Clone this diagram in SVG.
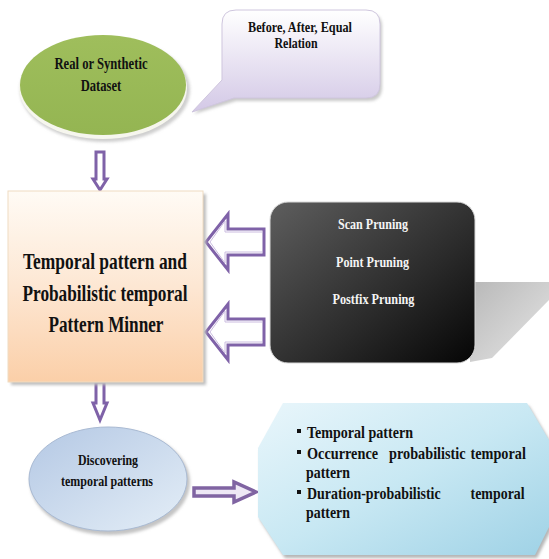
<svg xmlns="http://www.w3.org/2000/svg" width="549" height="559" viewBox="0 0 549 559">
<style>
text{font-family:'Liberation Serif','Times New Roman',serif;font-weight:bold;}
.t{fill:#111;}
.w{fill:#f4f4f4;}
.arr{fill:#ffffff;stroke:#7f62a8;stroke-width:3;stroke-linejoin:miter;}
.arrin{fill:none;stroke:#cbbce0;stroke-width:1;}
</style>
<defs>
<linearGradient id="gGreen" x1="0" y1="0" x2="0" y2="1"><stop offset="0" stop-color="#9fbe5c"/><stop offset="1" stop-color="#94b552"/></linearGradient>
<linearGradient id="gCall" x1="0" y1="0" x2="0" y2="1"><stop offset="0" stop-color="#ffffff"/><stop offset="1" stop-color="#d3c8e6"/></linearGradient>
<linearGradient id="gOr" x1="0" y1="0" x2="0" y2="1"><stop offset="0" stop-color="#fffbf5"/><stop offset="0.5" stop-color="#fde7d3"/><stop offset="1" stop-color="#fbcfa8"/></linearGradient>
<linearGradient id="gDark" x1="0" y1="0" x2="1" y2="1"><stop offset="0" stop-color="#5e5e5e"/><stop offset="0.6" stop-color="#2a2a2a"/><stop offset="1" stop-color="#050505"/></linearGradient>
<linearGradient id="gSh" x1="0" y1="0" x2="1" y2="1"><stop offset="0" stop-color="#b8b8b8"/><stop offset="1" stop-color="#e6e6e6"/></linearGradient>
<linearGradient id="gBlue" x1="0" y1="0" x2="1" y2="1"><stop offset="0" stop-color="#b4c8e4"/><stop offset="1" stop-color="#e4eef7"/></linearGradient>
<linearGradient id="gOct" x1="0" y1="0" x2="1" y2="1"><stop offset="0" stop-color="#e9f6fb"/><stop offset="0.5" stop-color="#c8e8f3"/><stop offset="1" stop-color="#9fd2e6"/></linearGradient>
<filter id="blur" x="-10%" y="-10%" width="120%" height="130%"><feGaussianBlur stdDeviation="1.5"/></filter>
</defs>

<g id="connectors">
  <path class="arr" d="M96,152 H104 V179 H107 L100,190 L93,179 H96 Z"/>
  <path class="arr" d="M96,382 H104 V403 H107 L100,420 L93,403 H96 Z"/>
  <path class="arr" d="M264,229 H228 V214 L206,242 L228,270 V255 H264 Z"/>
  <path class="arrin" d="M262,232 H225 V221 L210,242 L225,263 V252 H262"/>
  <path class="arr" d="M264,319 H228 V304 L206,332 L228,360 V345 H264 Z"/>
  <path class="arrin" d="M262,322 H225 V311 L210,332 L225,353 V342 H262"/>
  <path d="M194,488 H234 V482 L256,492 L234,502 V496 H194 Z" fill="#eee8f5" stroke="#8064a2" stroke-width="3.5" stroke-linejoin="miter"/>
</g>

<g id="dataset">
  <ellipse cx="105" cy="90" rx="85" ry="52" fill="#cfcfcf" filter="url(#blur)"/>
  <ellipse cx="103" cy="88" rx="84" ry="51" fill="#f6f6ee"/>
  <ellipse cx="103" cy="85" rx="83" ry="50" fill="url(#gGreen)"/>
  <text class="t" x="101" y="69" font-size="16" text-anchor="middle" textLength="93" lengthAdjust="spacingAndGlyphs">Real or Synthetic</text>
  <text class="t" x="101" y="91" font-size="16" text-anchor="middle" textLength="40.5" lengthAdjust="spacingAndGlyphs">Dataset</text>
</g>

<g id="relation">
  <path d="M238,13 H368 Q382,13 382,27 V87 Q382,101 368,101 H236 L194,114 L224,83 V27 Q224,13 238,13 Z" fill="#c9c9c9" filter="url(#blur)"/>
  <path d="M236,10 H366 Q380,10 380,24 V84 Q380,98 366,98 H234 L192,112 L222,80 V24 Q222,10 236,10 Z" fill="url(#gCall)" stroke="#cfc6de" stroke-width="1"/>
  <text class="t" x="300" y="32" font-size="15.5" text-anchor="middle" textLength="104" lengthAdjust="spacingAndGlyphs">Before, After, Equal</text>
  <text class="t" x="296" y="48" font-size="15.5" text-anchor="middle" textLength="43" lengthAdjust="spacingAndGlyphs">Relation</text>
</g>

<g id="miner">
  <rect x="11" y="194" width="195" height="191" fill="#bdbdbd" filter="url(#blur)"/>
  <rect x="8" y="191" width="195" height="191" fill="url(#gOr)" stroke="#f0dcc2" stroke-width="1"/>
  <text class="t" x="105" y="269" font-size="22.5" text-anchor="middle" textLength="164" lengthAdjust="spacingAndGlyphs">Temporal pattern and</text>
  <text class="t" x="105" y="301" font-size="22.5" text-anchor="middle" textLength="165" lengthAdjust="spacingAndGlyphs">Probabilistic temporal</text>
  <text class="t" x="106" y="332" font-size="22.5" text-anchor="middle" textLength="115" lengthAdjust="spacingAndGlyphs">Pattern Minner</text>
</g>

<g id="pruning">
  <polygon points="470,282 549,282 549,300 492,358 470,362" fill="url(#gSh)"/>
  <rect x="270" y="202" width="205" height="161" rx="18" fill="url(#gDark)" stroke="#d8d8d8" stroke-width="1"/>
  <text class="w" x="373" y="229" font-size="15.5" text-anchor="middle" textLength="70" lengthAdjust="spacingAndGlyphs">Scan Pruning</text>
  <text class="w" x="372.5" y="267" font-size="15.5" text-anchor="middle" textLength="73" lengthAdjust="spacingAndGlyphs">Point Pruning</text>
  <text class="w" x="373.5" y="304" font-size="15.5" text-anchor="middle" textLength="82" lengthAdjust="spacingAndGlyphs">Postfix Pruning</text>
</g>

<g id="discovering">
  <ellipse cx="110" cy="482" rx="80" ry="53" fill="#c4c4c4" filter="url(#blur)"/>
  <ellipse cx="108" cy="479" rx="79" ry="52" fill="url(#gBlue)" stroke="#a9bad3" stroke-width="1"/>
  <text class="t" x="108" y="465" font-size="15.3" text-anchor="middle" textLength="60" lengthAdjust="spacingAndGlyphs">Discovering</text>
  <text class="t" x="107" y="486" font-size="15.3" text-anchor="middle" textLength="92" lengthAdjust="spacingAndGlyphs">temporal patterns</text>
</g>

<g id="patterns">
  <polygon points="285,406 529,406 551,443 551,530 537,558 285,558 260,520 260,451" fill="#b5b5b5" filter="url(#blur)"/>
  <polygon points="283,403 527,403 549,440 549,527 535,555 283,555 258,517 258,448" fill="url(#gOct)"/>
  <rect x="297" y="429" width="4" height="4" fill="#111"/>
  <text class="t" x="307" y="438" font-size="17.5" textLength="106" lengthAdjust="spacingAndGlyphs">Temporal pattern</text>
  <rect x="297" y="450" width="4" height="4" fill="#111"/>
  <text class="t" transform="translate(307,459) scale(0.84,1)" font-size="17"><tspan x="0" y="0">Occurrence</tspan><tspan x="97.6" y="0">probabilistic</tspan><tspan x="194.6" y="0">temporal</tspan></text>
  <text class="t" x="306" y="478" font-size="17.5" textLength="44" lengthAdjust="spacingAndGlyphs">pattern</text>
  <rect x="297" y="490" width="4" height="4" fill="#111"/>
  <text class="t" transform="translate(307,499) scale(0.82,1)" font-size="17"><tspan x="0" y="0">Duration-probabilistic</tspan><tspan x="199.4" y="0">temporal</tspan></text>
  <text class="t" x="306" y="518" font-size="17.5" textLength="44" lengthAdjust="spacingAndGlyphs">pattern</text>
</g>
</svg>
